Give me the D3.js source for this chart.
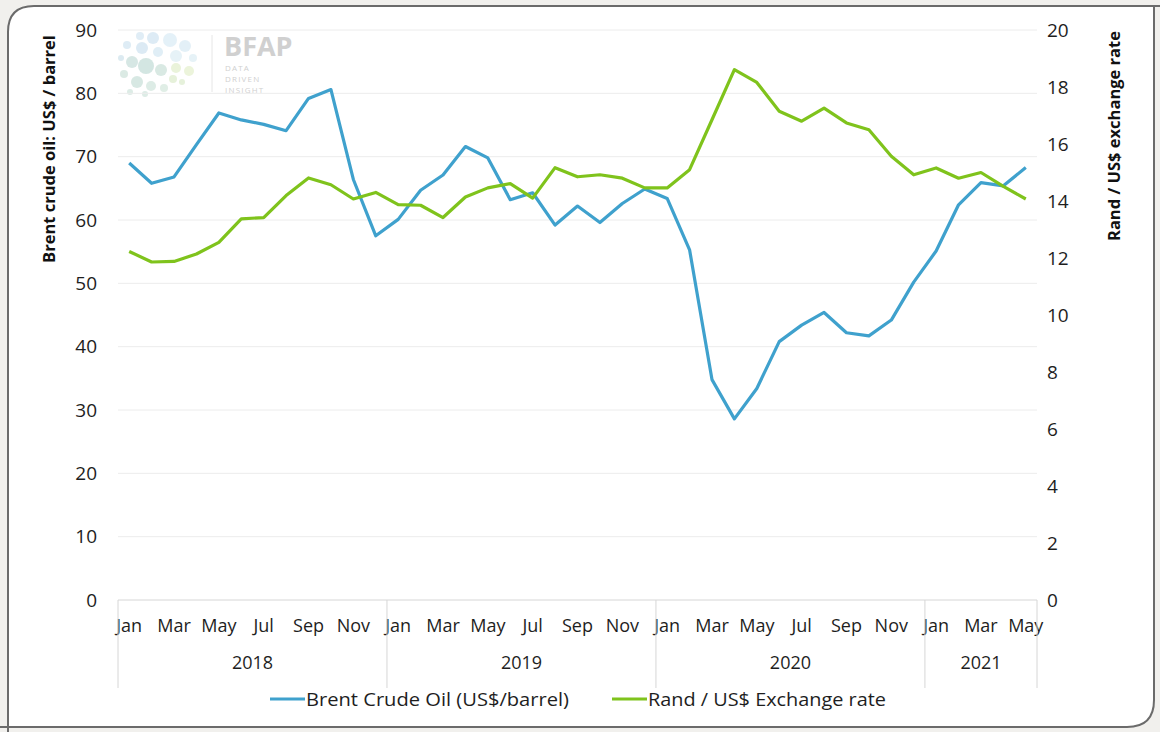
<!DOCTYPE html>
<html>
<head>
<meta charset="utf-8">
<script src="https://cdn.jsdelivr.net/npm/d3@7"></script>
<style>
  body { margin: 0; background: #f1f0ed; }
  svg { display: block; font-family: "Open Sans", "Noto Sans", sans-serif; }
</style>
</head>
<body>
<svg></svg>
<script>
// data
let years = ["2018", "2019", "2020", "2021"];
let monthNames = ["Jan", "Feb", "Mar", "Apr", "May", "Jun", "Jul", "Aug", "Sep", "Oct", "Nov", "Dec"];
let monthsPerYear = [12, 12, 12, 5];

let brent = [
  69.0, 65.8, 66.8, 71.9, 76.9, 75.8, 75.1, 74.1, 79.2, 80.6, 66.4, 57.5,
  60.1, 64.7, 67.1, 71.6, 69.8, 63.2, 64.3, 59.2, 62.2, 59.6, 62.6, 64.9,
  63.4, 55.3, 34.8, 28.6, 33.4, 40.8, 43.4, 45.4, 42.2, 41.7, 44.2, 50.2,
  55.1, 62.4, 65.9, 65.4, 68.3
];
let rand = [
  12.23, 11.86, 11.88, 12.14, 12.55, 13.37, 13.42, 14.19, 14.81, 14.57, 14.07, 14.30,
  13.87, 13.85, 13.42, 14.14, 14.46, 14.61, 14.10, 15.17, 14.85, 14.92, 14.80, 14.46,
  14.46, 15.10, 16.85, 18.61, 18.16, 17.15, 16.80, 17.26, 16.74, 16.50, 15.57, 14.92,
  15.16, 14.80, 15.00, 14.51, 14.07
];
let leftTicks = [0, 10, 20, 30, 40, 50, 60, 70, 80, 90];
let rightTicks = [0, 2, 4, 6, 8, 10, 12, 14, 16, 18, 20];

let width = 1160;
let height = 732;
let plotLeft = 118, plotRight = 1037, plotTop = 30, plotBottom = 600;

let blue = "#3fa1cd";
let green = "#7fc31c";
let textColor = "#1e1e1e";

let svg = d3.select("svg").attr("width", width).attr("height", height);

// categories: one per month
let cats = [];
years.forEach((y, yi) => {
  for (let m = 0; m < monthsPerYear[yi]; m++) cats.push(y + "-" + m);
});

let xScale = d3.scaleBand().domain(cats).range([plotLeft, plotRight]);
let yLeft = d3.scaleLinear().domain([0, 90]).range([plotBottom, plotTop]);
let yRight = d3.scaleLinear().domain([0, 20]).range([plotBottom, plotTop]);
let xc = (i) => xScale(cats[i]) + xScale.bandwidth() / 2;

// frame
svg.append("path")
  .attr("d", "M8,740 L8,32 Q8,6 34,6 L1154,6 L1154,700 Q1154,727 1127,727 L8,727 Z")
  .attr("fill", "#ffffff");
svg.append("path")
  .attr("d", "M8,740 L8,32 Q8,6 34,6 L1170,6")
  .attr("fill", "none").attr("stroke", "#6b6b6b").attr("stroke-width", 2);
svg.append("path")
  .attr("d", "M1154,6 L1154,700 Q1154,727 1127,727 L-10,727")
  .attr("fill", "none").attr("stroke", "#6b6b6b").attr("stroke-width", 2);

// logo watermark
let logo = svg.append("g").attr("opacity", 0.35);
let dots = [
  [140, 36, 4, "#a9cde6"], [153, 38, 6, "#9fc7e4"], [170, 40, 7, "#b5d8ec"], [185, 46, 6, "#b2d7ea"],
  [127, 45, 4, "#a3cbe3"], [142, 48, 6, "#9ec6e2"], [158, 52, 5, "#a8d0e6"], [176, 56, 6, "#b9dbe9"],
  [193, 58, 4, "#b9dbe9"], [121, 58, 3, "#9cc6d8"], [132, 62, 6, "#8cbcb3"], [146, 66, 8, "#84b8ad"],
  [161, 70, 6, "#93c1b0"], [176, 68, 5, "#c4dd98"], [189, 71, 5, "#c9e19a"], [173, 79, 4, "#bad896"],
  [124, 74, 4, "#9ac5b5"], [137, 82, 6, "#8fbfb0"], [151, 86, 5, "#a0c9b8"], [164, 88, 4, "#a9cfb8"],
  [182, 82, 3, "#b9d99b"], [130, 92, 3, "#a0c9b8"], [145, 94, 3, "#a0c9b8"]
];
logo.selectAll("circle").data(dots).enter().append("circle")
  .attr("cx", (d) => d[0]).attr("cy", (d) => d[1]).attr("r", (d) => d[2]).attr("fill", (d) => d[3]);
svg.append("line").attr("x1", 212).attr("x2", 212).attr("y1", 35).attr("y2", 92)
  .attr("stroke", "#e6e6e6");
svg.append("text").attr("x", 224).attr("y", 56).text("BFAP")
  .attr("font-size", 27).attr("font-weight", "bold").attr("fill", "#d0d0d0");
["DATA", "DRIVEN", "INSIGHT"].forEach((t, i) => {
  svg.append("text").attr("x", 225).attr("y", 71 + i * 11).text(t)
    .attr("font-size", 8).attr("fill", "#d0d0d0").attr("letter-spacing", 1.2);
});

// gridlines
svg.append("g")
  .selectAll("line")
  .data(leftTicks.slice(1))
  .enter()
  .append("line")
  .attr("x1", plotLeft).attr("x2", plotRight)
  .attr("y1", (d) => yLeft(d)).attr("y2", (d) => yLeft(d))
  .attr("stroke", "#ececec").attr("stroke-width", 1);

// left axis
let gLeft = svg.append("g")
  .attr("transform", "translate(" + 97 + ",0)")
  .call(d3.axisLeft(yLeft).tickValues(leftTicks).tickSize(0).tickPadding(0));
gLeft.select(".domain").remove();
gLeft.selectAll("text").attr("font-size", 19).attr("fill", textColor).attr("font-family", "'Open Sans', sans-serif");

// right axis
let gRight = svg.append("g")
  .attr("transform", "translate(" + 1047 + ",0)")
  .call(d3.axisRight(yRight).tickValues(rightTicks).tickSize(0).tickPadding(0));
gRight.select(".domain").remove();
gRight.selectAll("text").attr("font-size", 19).attr("fill", textColor).attr("font-family", "'Open Sans', sans-serif");

// bottom category axis
svg.append("line").attr("x1", plotLeft).attr("x2", plotRight).attr("y1", plotBottom).attr("y2", plotBottom)
  .attr("stroke", "#d6d6d6");

svg.append("g")
  .selectAll("text")
  .data(cats.filter((c) => +c.split("-")[1] % 2 === 0))
  .enter()
  .append("text")
  .attr("x", (d) => xScale(d) + xScale.bandwidth() / 2)
  .attr("y", 632)
  .attr("text-anchor", "middle")
  .attr("font-size", 18)
  .attr("fill", textColor)
  .text((d) => monthNames[+d.split("-")[1]]);

// year groups
let yearStart = [];
let acc = 0;
monthsPerYear.forEach((n) => { yearStart.push(acc); acc += n; });
let bounds = yearStart.map((s) => xScale(cats[s])).concat([plotRight]);

svg.append("g")
  .selectAll("line")
  .data(bounds)
  .enter()
  .append("line")
  .attr("x1", (d) => d).attr("x2", (d) => d)
  .attr("y1", plotBottom).attr("y2", 688)
  .attr("stroke", "#d6d6d6");

svg.append("g")
  .selectAll("text")
  .data(years)
  .enter()
  .append("text")
  .attr("x", (d, i) => (bounds[i] + bounds[i + 1]) / 2)
  .attr("y", 669)
  .attr("text-anchor", "middle")
  .attr("font-size", 18)
  .attr("fill", textColor)
  .text((d) => d);

// lines
let lineLeft = d3.line().x((d, i) => xc(i)).y((d) => yLeft(d));
let lineRight = d3.line().x((d, i) => xc(i)).y((d) => yRight(d));

svg.append("path").datum(brent)
  .attr("d", lineLeft)
  .attr("fill", "none").attr("stroke", blue).attr("stroke-width", 3.2).attr("stroke-linejoin", "round");
svg.append("path").datum(rand)
  .attr("d", lineRight)
  .attr("fill", "none").attr("stroke", green).attr("stroke-width", 3.2).attr("stroke-linejoin", "round");

// axis titles
svg.append("text")
  .attr("transform", "translate(55,149) rotate(-90)")
  .attr("text-anchor", "middle")
  .attr("font-size", 16.5).attr("font-weight", "bold").attr("fill", "#111")
  .text("Brent crude oil: US$ / barrel");
svg.append("text")
  .attr("transform", "translate(1120,136) rotate(-90)")
  .attr("text-anchor", "middle")
  .attr("font-size", 16.5).attr("font-weight", "bold").attr("fill", "#111")
  .text("Rand / US$ exchange rate");

// legend
let legend = [
  { name: "Brent Crude Oil (US$/barrel)", color: blue, x: 270, len: 263 },
  { name: "Rand / US$ Exchange rate", color: green, x: 612, len: 238 }
];
legend.forEach((d) => {
  svg.append("line").attr("x1", d.x).attr("x2", d.x + 35).attr("y1", 699).attr("y2", 699)
    .attr("stroke", d.color).attr("stroke-width", 3.2);
  svg.append("text").attr("x", d.x + 36).attr("y", 706)
    .attr("font-size", 18).attr("fill", textColor)
    .attr("textLength", d.len).attr("lengthAdjust", "spacingAndGlyphs")
    .text(d.name);
});
</script>
</body>
</html>
